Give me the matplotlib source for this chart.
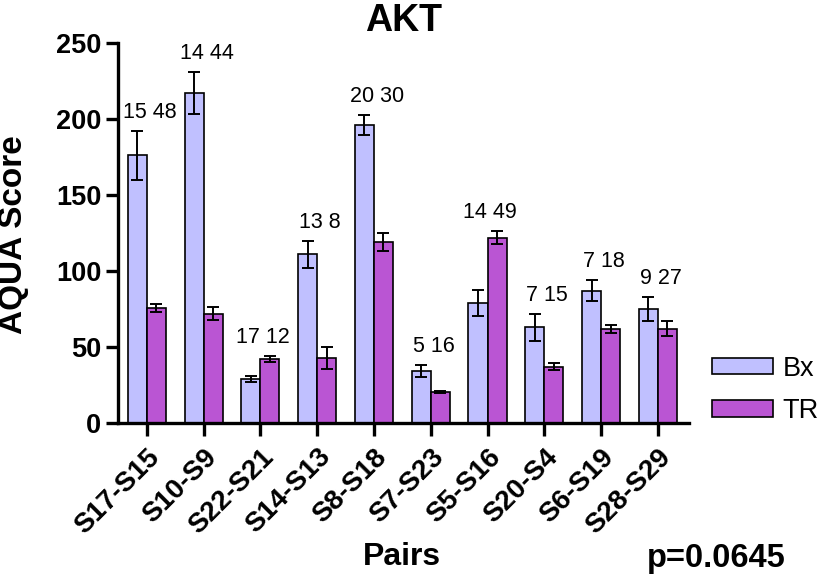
import numpy as np
import matplotlib
matplotlib.use("Agg")
import matplotlib.pyplot as plt
import matplotlib.transforms as mtransforms

plt.rcParams['font.family'] = ['Liberation Sans', 'DejaVu Sans']

# data
pairs = ['S17-S15', 'S10-S9', 'S22-S21', 'S14-S13', 'S8-S18',
         'S7-S23', 'S5-S16', 'S20-S4', 'S6-S19', 'S28-S29']
bx = [176, 217, 29, 111, 196, 34, 79, 63, 87, 75]
bx_err = [16, 14, 2, 9, 6.5, 4, 8.5, 9, 7, 8]
tr = [75.5, 72, 42, 43, 119, 20.5, 122, 37, 62, 62]
tr_err = [2.5, 4, 2, 7.3, 6, 0.6, 4.5, 2.2, 2.8, 4.8]
n_labels = ['15 48', '14 44', '17 12', '13 8', '20 30',
            '5 16', '14 49', '7 15', '7 18', '9 27']

bx_color = '#C0C0FF'
tr_color = '#BA55D3'

fig = plt.figure(figsize=(8.2, 5.78), dpi=100)
ax = fig.add_axes([118/820, 1-423/578, (689-118)/820, 380/578])

x = np.arange(len(pairs))
w = 0.335
err_kw = dict(ecolor='black', elinewidth=1.4, capsize=4.5, capthick=1.4)
ax.bar(x - w/2, bx, w, yerr=bx_err, color=bx_color, edgecolor='black',
       linewidth=1.2, error_kw=err_kw, label='Bx', zorder=2)
ax.bar(x + w/2, tr, w, yerr=tr_err, color=tr_color, edgecolor='black',
       linewidth=1.2, error_kw=err_kw, label='TR', zorder=2)

# n labels above each pair
for i, lab in enumerate(n_labels):
    top = max(bx[i] + bx_err[i], tr[i] + tr_err[i])
    ax.text(x[i] + 0.05, top + 12, lab, ha='center', va='center', fontsize=15.5)

ax.set_xlim(-0.51, len(pairs) - 1 + 0.55)
ax.set_ylim(0, 250)
ax.set_yticks([0, 50, 100, 150, 200, 250])
ax.set_xticks(x)
ax.set_xticklabels(pairs, rotation=45, ha='right', va='top',
                   rotation_mode='anchor', fontsize=20, fontweight='bold')
offset = mtransforms.ScaledTranslation(6/100, -4/100, fig.dpi_scale_trans)
for t in ax.get_xticklabels():
    t.set_transform(t.get_transform() + offset)
for t in ax.get_yticklabels():
    t.set_fontsize(19.5)
    t.set_fontweight('bold')

for s in ['top', 'right']:
    ax.spines[s].set_visible(False)
for s in ['left', 'bottom']:
    ax.spines[s].set_linewidth(2.4)
ax.tick_params(axis='both', width=2.4, length=9, pad=3)
ax.tick_params(axis='x', pad=6)

fig.text(404/820, 1-21/578, 'AKT', ha='center', va='center',
         fontsize=27, fontweight='bold')
fig.text(14/820, 1-235/578, 'AQUA Score', ha='center', va='center',
         rotation=90, fontsize=24, fontweight='bold')
fig.text(402/820, 1-557/578, 'Pairs', ha='center', va='center',
         fontsize=23, fontweight='bold')
fig.text(716/820, 1-558/578, 'p=0.0645', ha='center', va='center',
         fontsize=23.5, fontweight='bold')

fig.legend(loc='center left', bbox_to_anchor=(712/820, 1-390/578),
           frameon=False, fontsize=19.5, handlelength=2.25, handleheight=0.57,
           handletextpad=0.35, labelspacing=0.62, borderpad=0,
           borderaxespad=0)

fig.savefig('out.png', dpi=100)
